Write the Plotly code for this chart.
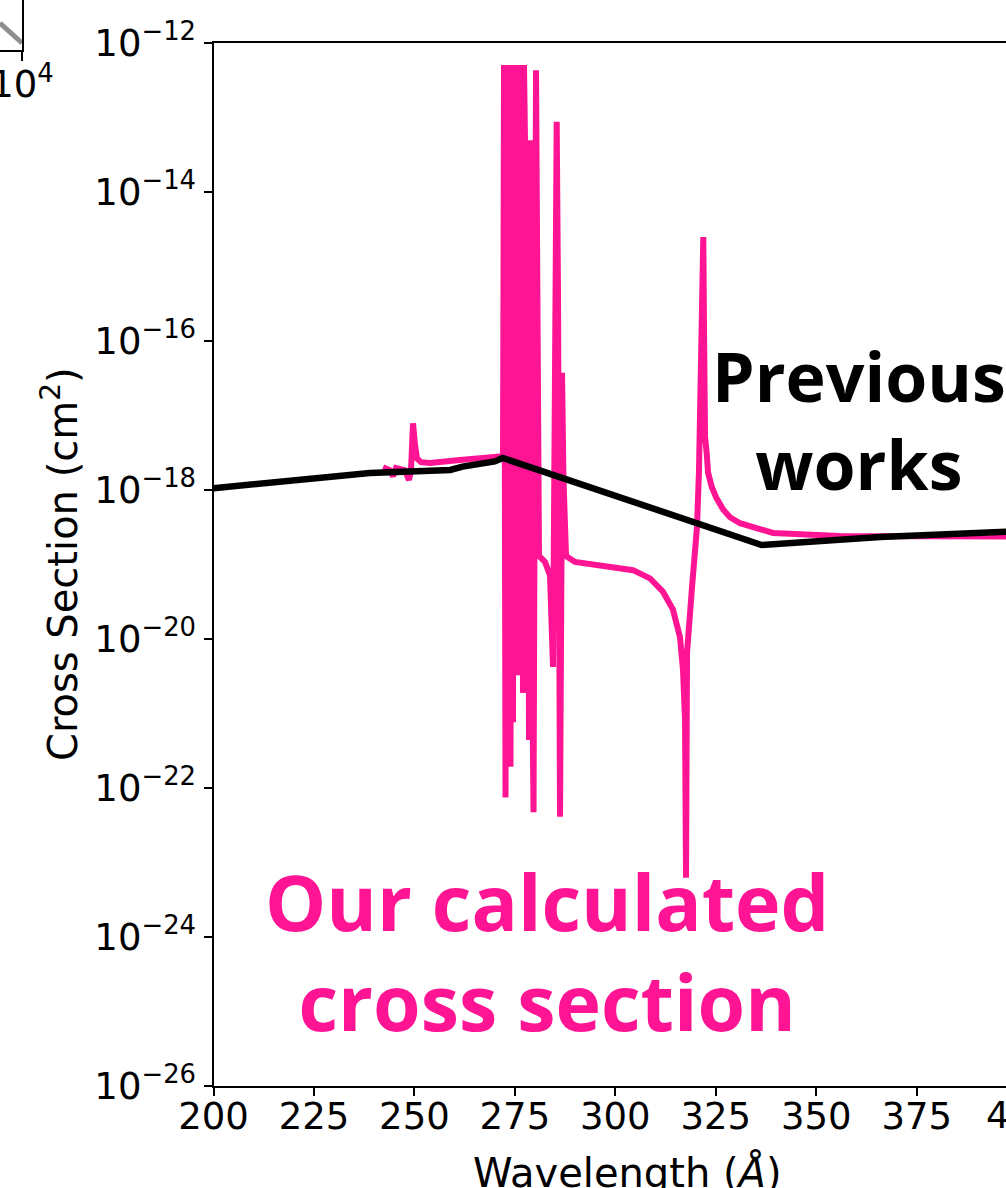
import plotly.graph_objects as go

# ---------------- data ----------------
# Our calculated cross section: wavelength (Angstrom) and log10(cross section / cm^2)
calc_wl = [242.18, 243.93, 244.67, 245.42, 247.66, 248.65, 249.15, 249.65, 250.15, 250.64,
           251.64, 253.88, 261.34, 271.30, 272.05,
           272.30, 272.67, 272.92, 273.16, 273.41, 273.91, 274.16, 274.53, 274.78, 275.03,
           275.28, 275.53, 275.73, 276.03, 276.28, 276.53, 277.02, 277.27, 277.52, 277.89,
           278.14, 278.52, 278.89, 279.14, 279.64, 280.26, 280.63, 281.00, 282.50, 283.74,
           284.49, 285.11, 285.41, 285.74, 286.23, 286.61, 286.73, 287.10, 287.73, 289.96,
           296.19, 304.40, 308.63, 311.86, 314.35, 316.09, 316.84, 317.34, 317.59, 317.84,
           319.08, 320.32, 320.82, 321.32, 321.69, 321.89, 322.07, 322.32, 322.74, 323.07,
           323.98, 325.05, 326.87, 328.53, 331.03, 339.24, 355.92, 397.22, 400.00]
calc_log = [-17.70, -17.74, -17.82, -17.71, -17.74, -17.87, -17.74, -17.11, -17.40, -17.58,
            -17.63, -17.64, -17.60, -17.55, -17.55,
            -12.30, -22.13, -12.30, -19.48, -12.30, -21.72, -12.30, -21.12, -12.30, -18.14,
            -20.02, -12.30, -20.49, -12.30, -18.14, -12.30, -20.73, -12.30, -13.31, -20.73,
            -13.31, -21.36, -13.31, -19.48, -22.33, -12.37, -18.14, -18.89, -18.97, -19.15,
            -20.38, -15.45, -13.06, -15.45, -22.39, -18.81, -16.43, -17.87, -18.89, -18.97,
            -19.01, -19.08, -19.19, -19.37, -19.61, -19.98, -20.42, -21.09, -23.21, -20.19,
            -19.31, -18.50, -17.74, -16.53, -15.19, -14.61, -15.86, -17.29, -17.51, -17.77,
            -17.96, -18.10, -18.27, -18.37, -18.45, -18.58, -18.62, -18.63, -18.63]

# Previous works
prev_wl = [200.0, 238.9, 258.9, 262.0, 270.0, 272.0, 336.4, 365.9, 397.2, 400.0]
prev_log = [-17.98, -17.775, -17.735, -17.69, -17.62, -17.574, -18.742, -18.635, -18.563, -18.555]

# fragment of the neighbouring panel (top-left corner)
frag_x = [7943, 10000]
frag_y = [0.54, 0.14]

x_ticks = [200, 225, 250, 275, 300, 325, 350, 375]
y_tick_exp = [-26, -24, -22, -20, -18, -16, -14, -12]

calc_y = [10 ** v for v in calc_log]
prev_y = [10 ** v for v in prev_log]

PINK = "#FF1493"
TICKFONT = dict(family="DejaVu Sans", size=37, color="black")
TITLEFONT = dict(family="DejaVu Sans", size=40, color="black")

fig = go.Figure()
fig.add_trace(go.Scatter(x=calc_wl, y=calc_y, mode="lines",
                         line=dict(color=PINK, width=6), showlegend=False))
fig.add_trace(go.Scatter(x=prev_wl, y=prev_y, mode="lines",
                         line=dict(color="black", width=6.5), showlegend=False))
fig.add_trace(go.Scatter(x=frag_x, y=frag_y, mode="lines", xaxis="x2", yaxis="y2",
                         line=dict(color="#8f8f8f", width=5), showlegend=False))

W, H = 1006, 1188
L, B, T = 213.5, 1085.7, 42.7
xdom = [L / W, 1.0]
ydom = [(H - B) / H, (H - T) / H]

fig.update_layout(
    width=W, height=H,
    margin=dict(l=0, r=0, t=0, b=0),
    template="none",
    paper_bgcolor="white", plot_bgcolor="white",
    xaxis=dict(domain=xdom, range=[200, 200 + (W - L) / 4.0184], tickvals=x_ticks,
               ticktext=[str(v) for v in x_ticks], ticklabelstandoff=-11,
               ticks="outside", ticklen=8, tickwidth=2, tickcolor="black",
               showline=True, linecolor="black", linewidth=2, mirror=True,
               showgrid=False, zeroline=False, tickfont=TICKFONT, automargin=False),
    yaxis=dict(domain=ydom, type="log", range=[-26, -12],
               tickvals=[10 ** e for e in y_tick_exp],
               ticktext=["10<sup>\u2212%d</sup>" % (-e) for e in y_tick_exp],
               ticks="outside", ticklen=8, tickwidth=2, tickcolor="black",
               showline=True, linecolor="black", linewidth=2, mirror=False,
               showgrid=False, zeroline=False, tickfont=TICKFONT, automargin=False),
    xaxis2=dict(domain=[0, 22 / W], type="log", range=[3.9, 4.0001], anchor="y2",
                tickvals=[10000], ticktext=["10<sup>4</sup>"], ticklabeloverflow="allow",
                ticklabelstandoff=-8,
                ticks="outside", ticklen=9, tickwidth=2, tickcolor="black",
                showline=True, linecolor="black", linewidth=2,
                showgrid=False, zeroline=False, tickfont=TICKFONT, automargin=False),
    yaxis2=dict(domain=[(H - 50) / H, 1.0], range=[0, 1], anchor="x2", side="right",
                showline=True, linecolor="black", linewidth=2, showticklabels=False,
                ticks="", showgrid=False, zeroline=False, automargin=False),
)


def px(xp):
    return xp / W


def py(yp):
    return (H - yp) / H


annotations = [
    dict(text="Cross Section (cm<sup>2</sup>)", textangle=-90, x=px(60), y=py(564),
         xref="paper", yref="paper", showarrow=False, xanchor="center", yanchor="middle",
         font=TITLEFONT),
    dict(text="Wavelength (<i>Å</i>)", x=px(627), y=py(1172),
         xref="paper", yref="paper", showarrow=False, xanchor="center", yanchor="middle",
         font=TITLEFONT),
    dict(text="400", x=px(984), y=py(1092), xref="paper", yref="paper",
         showarrow=False, xanchor="left", yanchor="top", font=TICKFONT),
    dict(text="Previous<br>works", x=px(859), y=py(419), xref="paper", yref="paper",
         showarrow=False, xanchor="center", yanchor="middle",
         font=dict(family="Open Sans", size=68, color="black", weight="bold")),
    dict(text="Our calculated<br>cross section", x=px(547), y=py(951), xref="paper", yref="paper",
         showarrow=False, xanchor="center", yanchor="middle",
         font=dict(family="Open Sans", size=77, color=PINK, weight="bold")),
]
fig.update_layout(annotations=annotations)

fig.write_html("out.html")
